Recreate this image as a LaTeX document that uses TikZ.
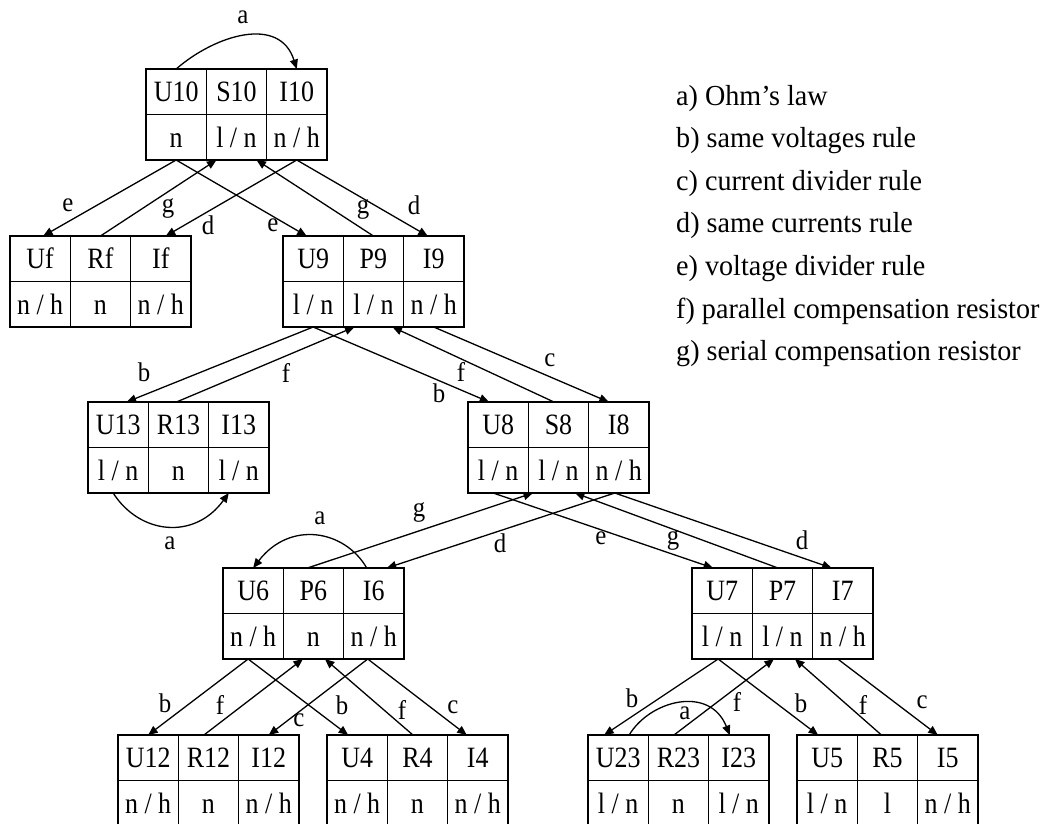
\documentclass[tikz,border=0pt]{standalone}
\usepackage{fontspec}
\setmainfont{Liberation Serif}[FakeStretch=0.92]
\newfontfamily\cellfont{Liberation Serif}[FakeStretch=0.88]
\newfontfamily\legfont{Liberation Serif}[FakeStretch=0.97]
\usetikzlibrary{arrows.meta}
\newcommand\grp[8]{%
  \node[cell,anchor=north west] (#3) at (#1,#2) {#3};
  \node[cell,anchor=north west] (#4) at (#1+60.3,#2) {#4};
  \node[cell,anchor=north west] (#5) at (#1+120.6,#2) {#5};
  \node[cell,anchor=north west] (#3v) at (#1,#2+45.5) {#6};
  \node[cell,anchor=north west] (#4v) at (#1+60.3,#2+45.5) {#7};
  \node[cell,anchor=north west] (#5v) at (#1+120.6,#2+45.5) {#8};
}
\begin{document}
\begin{tikzpicture}[x=1pt,y=-1pt,
  cell/.style={draw,line width=1.5pt,minimum width=60.3pt,minimum height=45.5pt,inner sep=0pt,outer sep=0pt,text height=21pt,text depth=1.5pt,font=\cellfont\fontsize{29.5}{32}\selectfont},
  conn/.style={line width=1.3pt,-{Triangle[length=9.5pt,width=8pt]}},
  lbl/.style={inner sep=0pt,font=\fontsize{27}{28}\selectfont},
  leg/.style={anchor=base west,inner sep=0pt,font=\legfont\fontsize{29}{32}\selectfont}]
\useasboundingbox (0,0) rectangle (1059,823);
\grp{146}{69}{U10}{S10}{I10}{n}{l / n}{n / h}
\grp{10}{236}{Uf}{Rf}{If}{n / h}{n}{n / h}
\grp{283}{236}{U9}{P9}{I9}{l / n}{l / n}{n / h}
\grp{88}{402}{U13}{R13}{I13}{l / n}{n}{l / n}
\grp{468}{402}{U8}{S8}{I8}{l / n}{l / n}{n / h}
\grp{223}{568}{U6}{P6}{I6}{n / h}{n}{n / h}
\grp{692}{568}{U7}{P7}{I7}{l / n}{l / n}{n / h}
\grp{118}{735}{U12}{R12}{I12}{n / h}{n}{n / h}
\grp{327}{735}{U4}{R4}{I4}{n / h}{n}{n / h}
\grp{588}{735}{U23}{R23}{I23}{l / n}{n}{l / n}
\grp{797}{735}{U5}{R5}{I5}{l / n}{l}{n / h}
% level 10
\draw[conn] (U10.north) .. controls +(39,-34) and +(-17,-54) .. (I10.north);
\draw[conn] (U10v.south) -- ([xshift=3pt]Uf.north);
\draw[conn] (Rf.north) -- ([xshift=-20pt]S10v.south);
\draw[conn] (I10v.south) -- ([xshift=5pt]If.north);
\draw[conn] (U10v.south) -- ([xshift=-6.5pt]U9.north);
\draw[conn] (P9.north) -- ([xshift=20pt]S10v.south);
\draw[conn] (I10v.south) -- ([xshift=-6pt]I9.north);
% level 9
\draw[conn] (U9v.south) -- ([xshift=8.5pt]U13.north);
\draw[conn] ([xshift=-2pt]R13.north) -- ([xshift=-19pt]P9v.south);
\draw[conn] (U9v.south) -- ([xshift=-9pt]U8.north);
\draw[conn] ([xshift=-4.5pt]S8.north) -- ([xshift=19pt]P9v.south);
\draw[conn] (I9v.south) -- ([xshift=-10pt]I8.north);
% level 13
\draw[conn] ([xshift=-5pt]U13v.south) .. controls +(27,42) and +(-34,47) .. ([xshift=-10pt]I13v.south);
% level 8
\draw[conn] ([xshift=-6pt]P6.north) -- ([xshift=-25.5pt]S8v.south);
\draw[conn] ([xshift=-4pt]I8v.south) -- ([xshift=13pt]I6.north);
\draw[conn] ([xshift=-5pt]U8v.south) -- ([xshift=-9pt]U7.north);
\draw[conn] ([xshift=-4.5pt]P7.north) -- ([xshift=16.5pt]S8v.south);
\draw[conn] ([xshift=-4pt]I8v.south) -- ([xshift=-11pt]I7.north);
% level 6
\draw[conn] ([xshift=-7pt]I6.north) .. controls +(-22,-38) and +(37,-48) .. (U6.north);
\draw[conn] ([xshift=-5pt]U6v.south) -- (U12.north);
\draw[conn] ([xshift=-4.5pt]R12.north) -- ([xshift=-10.5pt]P6v.south);
\draw[conn] ([xshift=-6pt]I6v.south) -- (I12.north);
\draw[conn] ([xshift=-5pt]U6v.south) -- ([xshift=-9pt]U4.north);
\draw[conn] ([xshift=-4.5pt]R4.north) -- ([xshift=11.5pt]P6v.south);
\draw[conn] ([xshift=-6pt]I6v.south) -- ([xshift=-11pt]I4.north);
% level 7
\draw[conn] ([xshift=-4pt]U7v.south) -- ([xshift=-14pt]U23.north);
\draw[conn] ([xshift=11pt]U23.north) .. controls +(21,-35) and +(-20,-50) .. ([xshift=-9pt]I23.north);
\draw[conn] ([xshift=-4.5pt]R23.north) -- ([xshift=-8.5pt]P7v.south);
\draw[conn] ([xshift=-4pt]U7v.south) -- ([xshift=-9pt]U5.north);
\draw[conn] ([xshift=-6pt]R5.north) -- ([xshift=12.5pt]P7v.south);
\draw[conn] ([xshift=-5pt]I7v.south) -- ([xshift=-10pt]I5.north);
% edge labels
\node[lbl] (l1) at (243,17) {a};
\node[lbl] (l2) at (68,205) {e};
\node[lbl] (l3) at (168,208) {g};
\node[lbl] (l4) at (208,225) {d};
\node[lbl] (l5) at (273,225) {e};
\node[lbl] (l6) at (363,209) {g};
\node[lbl] (l7) at (414,205) {d};
\node[lbl] (l8) at (144,372) {b};
\node[lbl] (l9) at (286,373) {f};
\node[lbl] (l10) at (439,393) {b};
\node[lbl] (l11) at (461,372) {f};
\node[lbl] (l12) at (550,360) {c};
\node[lbl] (l13) at (170,543) {a};
\node[lbl] (l14) at (320,518) {a};
\node[lbl] (l15) at (419,512) {g};
\node[lbl] (l16) at (500,543) {d};
\node[lbl] (l17) at (601,538) {e};
\node[lbl] (l18) at (673,540) {g};
\node[lbl] (l19) at (802,540) {d};
\node[lbl] (l20) at (165,703) {b};
\node[lbl] (l21) at (220,705) {f};
\node[lbl] (l22) at (299,720) {c};
\node[lbl] (l23) at (342,705) {b};
\node[lbl] (l24) at (402,710) {f};
\node[lbl] (l25) at (453,707) {c};
\node[lbl] (l26) at (632,698) {b};
\node[lbl] (l27) at (685,713) {a};
\node[lbl] (l28) at (737,702) {f};
\node[lbl] (l29) at (801,703) {b};
\node[lbl] (l30) at (863,705) {f};
\node[lbl] (l31) at (922,702) {c};
% legend
\node[leg] (ga) at (676,105) {a) Ohm’s law};
\node[leg] (gb) at (676,147.6) {b) same voltages rule};
\node[leg] (gc) at (676,190.2) {c) current divider rule};
\node[leg] (gd) at (676,232.8) {d) same currents rule};
\node[leg] (ge) at (676,275.4) {e) voltage divider rule};
\node[leg] (gf) at (676,318) {f) parallel compensation resistor};
\node[leg] (gg) at (676,360.6) {g) serial compensation resistor};
\end{tikzpicture}
\end{document}
